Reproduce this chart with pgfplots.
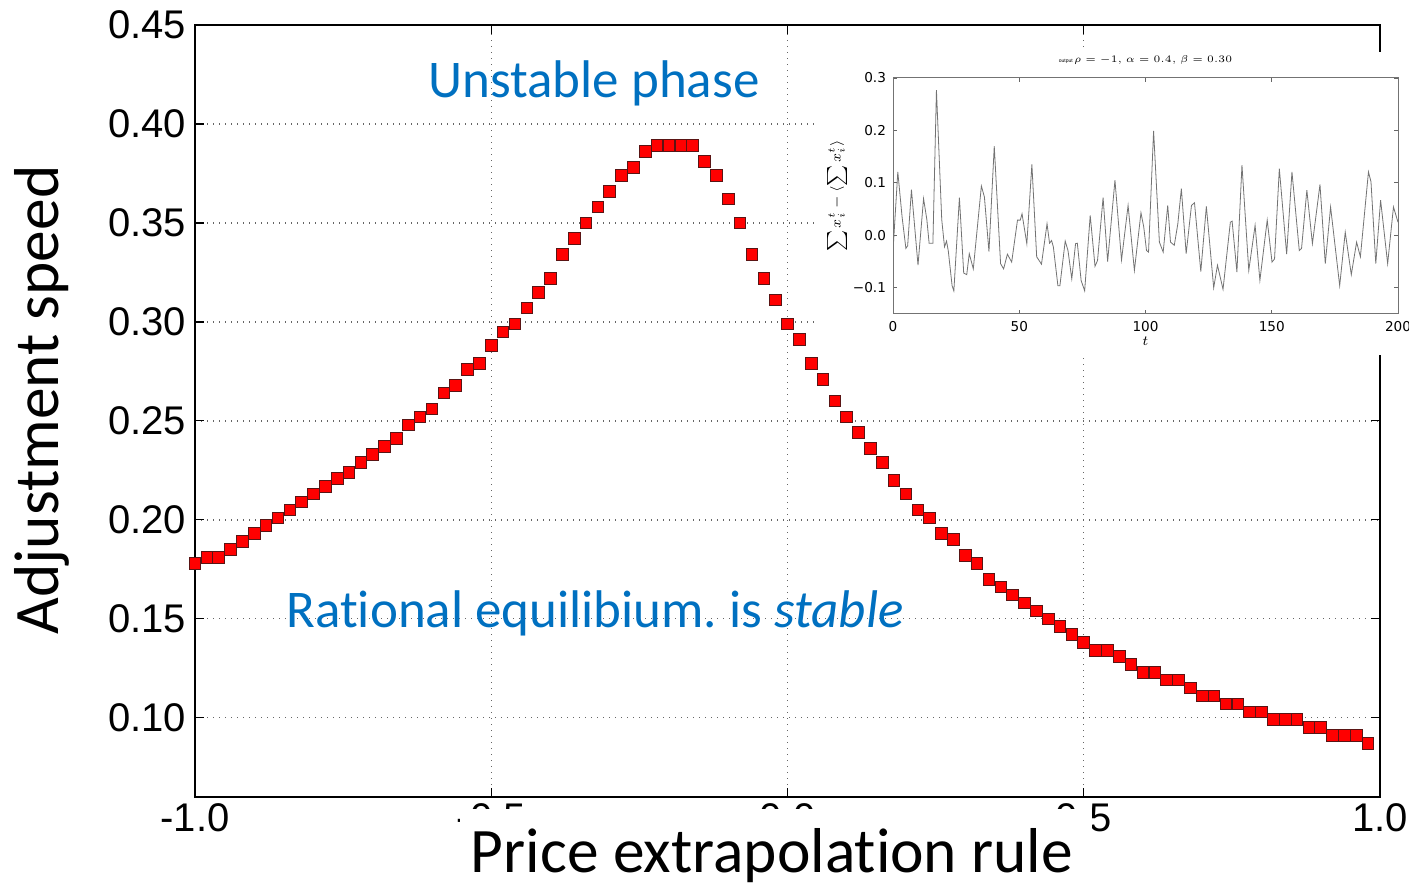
\documentclass[border=0pt]{standalone}
\usepackage{fontspec}
\setmainfont{Liberation Sans}
\newfontfamily\calibri[Ligatures=NoCommon]{Carlito}
\newfontfamily\dejavu{DejaVu Sans}
\usepackage{pgfplots}
\pgfplotsset{compat=1.18}
\usepackage{pgfplotstable}
\definecolor{txtblue}{RGB}{0,112,192}
\definecolor{mkedge}{RGB}{90,20,20}
\frenchspacing

\pgfplotstableread{
x y
-1.00 0.178
-0.98 0.181
-0.96 0.181
-0.94 0.185
-0.92 0.189
-0.90 0.193
-0.88 0.197
-0.86 0.201
-0.84 0.205
-0.82 0.209
-0.80 0.213
-0.78 0.217
-0.76 0.221
-0.74 0.224
-0.72 0.229
-0.70 0.233
-0.68 0.237
-0.66 0.241
-0.64 0.248
-0.62 0.252
-0.60 0.256
-0.58 0.264
-0.56 0.268
-0.54 0.276
-0.52 0.279
-0.50 0.288
-0.48 0.295
-0.46 0.299
-0.44 0.307
-0.42 0.315
-0.40 0.322
-0.38 0.334
-0.36 0.342
-0.34 0.350
-0.32 0.358
-0.30 0.366
-0.28 0.374
-0.26 0.378
-0.24 0.386
-0.22 0.389
-0.20 0.389
-0.18 0.389
-0.16 0.389
-0.14 0.381
-0.12 0.374
-0.10 0.362
-0.08 0.350
-0.06 0.334
-0.04 0.322
-0.02 0.311
0.00 0.299
0.02 0.291
0.04 0.279
0.06 0.271
0.08 0.260
0.10 0.252
0.12 0.244
0.14 0.236
0.16 0.229
0.18 0.220
0.20 0.213
0.22 0.205
0.24 0.201
0.26 0.193
0.28 0.190
0.30 0.182
0.32 0.178
0.34 0.170
0.36 0.166
0.38 0.162
0.40 0.158
0.42 0.154
0.44 0.150
0.46 0.146
0.48 0.142
0.50 0.138
0.52 0.134
0.54 0.134
0.56 0.131
0.58 0.127
0.60 0.123
0.62 0.123
0.64 0.119
0.66 0.119
0.68 0.115
0.70 0.111
0.72 0.111
0.74 0.107
0.76 0.107
0.78 0.103
0.80 0.103
0.82 0.099
0.84 0.099
0.86 0.099
0.88 0.095
0.90 0.095
0.92 0.091
0.94 0.091
0.96 0.091
0.98 0.087
}\speedtable

\pgfplotstableread{
t v
0 -0.030
1.9 0.121
3.6 0.035
5.1 -0.025
5.8 -0.020
7.3 0.087
9.9 -0.057
12.1 0.070
13.4 0.030
14.3 -0.015
15.8 -0.015
17.2 0.277
19.3 0.030
20.4 -0.022
21.2 -0.011
21.9 -0.030
23.4 -0.096
24.1 -0.106
26.3 0.072
28.0 -0.072
29.2 -0.075
30.2 -0.035
31.8 -0.064
35.0 0.094
36.2 0.073
38.0 -0.031
40.1 0.170
42.6 -0.054
43.8 -0.064
45.3 -0.036
47.0 -0.051
49.3 0.029
50.4 0.029
51.1 0.041
53.0 -0.016
55.0 0.135
56.9 -0.041
58.8 -0.055
61.0 0.022
62.0 -0.015
62.8 -0.010
63.5 -0.022
65.3 -0.096
66.1 -0.096
68.2 -0.011
69.3 -0.029
70.8 -0.083
72.3 -0.016
73.0 -0.015
74.5 -0.086
75.9 -0.106
78.1 0.038
80.0 -0.059
81.0 -0.048
83.2 0.072
85.0 -0.050
87.9 0.105
90.5 -0.047
93.1 0.057
95.6 -0.067
98.2 0.043
99.3 0.016
100.4 -0.029
101.2 -0.032
103.2 0.199
105.5 -0.013
107.0 -0.032
108.8 0.057
109.9 -0.013
111.4 -0.019
112.8 0.022
114.2 0.089
116.1 -0.035
118.2 0.057
119.4 0.062
121.9 -0.069
124.1 0.055
127.0 -0.100
128.5 -0.057
130.7 -0.103
133.6 0.025
134.3 0.027
136.2 -0.070
138.2 0.134
140.9 -0.067
143.4 0.019
145.3 -0.086
148.2 0.029
150.1 -0.051
151.1 -0.045
153.0 0.127
155.9 -0.036
158.0 0.121
160.9 -0.029
161.8 -0.025
163.9 0.086
166.1 -0.016
169.1 0.097
171.2 -0.054
173.3 0.054
176.9 -0.096
179.1 0.006
181.5 -0.075
183.6 -0.013
185.1 -0.041
188.3 0.121
189.3 0.102
191.2 -0.054
193.1 0.067
195.9 -0.054
198.2 0.054
200 0.025
}\seriestable

\begin{document}
\begin{tikzpicture}
\begin{axis}[
  at={(97.5pt,44.5pt)}, anchor=south west,
  scale only axis, width=592.5pt, height=386pt,
  xmin=-1, xmax=1, ymin=0.06, ymax=0.45,
  xtick={-1,-0.5,0,0.5,1},
  xticklabels={-1.0,-0.5,0.0,0.5,1.0},
  ytick={0.10,0.15,0.20,0.25,0.30,0.35,0.40,0.45},
  yticklabels={0.10,0.15,0.20,0.25,0.30,0.35,0.40,0.45},
  ticklabel style={font=\fontsize{20}{22}\selectfont},
  yticklabel style={xshift=-1pt},
  tick align=inside, major tick length=4.5pt,
  axis line style={line width=0.9pt},
  tick style={black, line width=0.6pt},
  grid=major,
  major grid style={black!60, line width=0.65pt, dash pattern=on 0.7pt off 2.3pt},
]
\addplot[only marks, mark=square*, mark size=2.9pt,
  mark options={fill=red, draw=mkedge, line width=0.5pt}]
  table[x=x,y=y]{\speedtable};
\end{axis}

% white background of the pasted inset
\fill[white] (407.5pt,265.5pt) rectangle (712pt,417pt);

\begin{axis}[
  at={(446.5pt,286pt)}, anchor=south west,
  scale only axis, width=252.5pt, height=118pt,
  xmin=0, xmax=200, ymin=-0.15, ymax=0.3,
  xtick={0,50,100,150,200},
  xticklabels={0,50,100,150,200},
  ytick={-0.1,0,0.1,0.2,0.3},
  yticklabels={−0.1,0.0,0.1,0.2,0.3},
  ticklabel style={font=\dejavu\fontsize{6.8}{7.5}\selectfont},
  tick align=inside, major tick length=2pt,
  axis line style={black!55, line width=0.5pt},
  tick style={black!60, line width=0.4pt},
  xlabel={$t$}, ylabel={$\sum x_i^t - \langle \sum x_i^t \rangle$},
  label style={font=\fontsize{7}{8}\selectfont},
  xlabel style={yshift=4pt},
  ylabel style={yshift=-4pt},
  title={output $\rho=-1,\ \alpha=0.4,\ \beta=0.30$},
  title style={font=\fontsize{2.5}{3}\selectfont, yshift=-3pt},
]
\addplot[black!55, line width=0.4pt] table[x=t,y=v]{\seriestable};
\end{axis}

\node[anchor=base, font=\calibri\fontsize{26.5}{30}\selectfont, text=txtblue]
  at (297pt,394pt) {Unstable phase};
\node[anchor=base, font=\calibri\fontsize{26.5}{30}\selectfont, text=txtblue]
  at (297.5pt,129pt) {Rational equilibium. is \textit{stable}};

\fill[white] (230pt,-2pt) rectangle (546pt,38.5pt);
\node[anchor=base, font=\calibri\fontsize{31.7}{36}\selectfont]
  at (386pt,6.5pt) {Price extrapolation rule};
\node[anchor=base, rotate=90, font=\calibri\fontsize{31.7}{36}\selectfont]
  at (29pt,243pt) {Adjustment speed};

\pgfresetboundingbox
\useasboundingbox (0,0) rectangle (704.5pt,443pt);
\end{tikzpicture}
\end{document}
